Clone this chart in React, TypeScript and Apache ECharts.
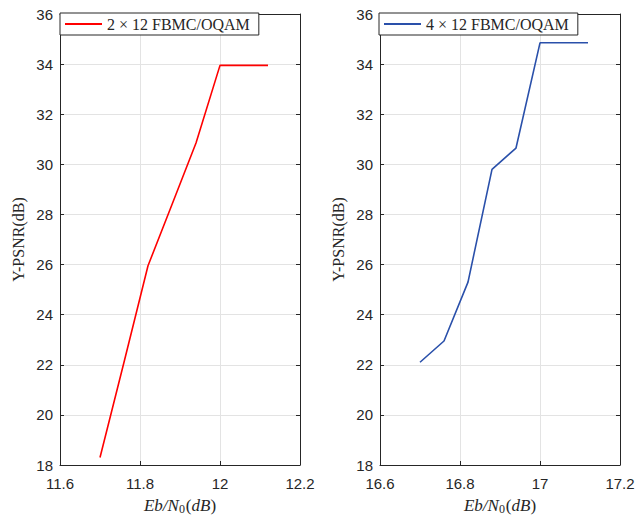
import React, { useEffect, useRef } from "react";
import * as echarts from "echarts";

const leftName = "2 × 12 FBMC/OQAM";
const rightName = "4 × 12 FBMC/OQAM";
const leftX = [11.7, 11.76, 11.82, 11.88, 11.94, 12.0, 12.06, 12.12];
const leftY = [18.3, 22.1, 25.95, 28.4, 30.85, 33.95, 33.95, 33.95];
const rightX = [16.7, 16.76, 16.82, 16.88, 16.94, 17.0, 17.06, 17.12];
const rightY = [22.1, 22.95, 25.3, 29.8, 30.65, 34.85, 34.85, 34.85];
const leftXRange = [11.6, 12.2];
const rightXRange = [16.6, 17.2];
const yRange = [18, 36];
const xInterval = 0.2;
const yInterval = 2;

const AX = "#262626";
const GRID = "#e3e3e3";

export default function App() {
  const ref = useRef<HTMLDivElement>(null);
  useEffect(() => {
    if (!ref.current) return;
    const chart = echarts.init(ref.current, undefined, { renderer: "svg" });
    const fmt = (v: number) => String(parseFloat(v.toFixed(1)));
    const tickLabel = {
      color: AX,
      fontSize: 15,
      fontFamily: "Liberation Sans, Arial, sans-serif",
    };
    const xName = {
      name: "{i|Eb/N}{s|0}{u|(}{i|dB}{u|)}",
      nameLocation: "middle" as const,
      nameGap: 30,
      nameTextStyle: {
        rich: {
          i: { fontFamily: "Liberation Serif, serif", fontStyle: "italic", fontSize: 17, color: AX },
          u: { fontFamily: "Liberation Serif, serif", fontSize: 17, color: AX },
          s: { fontFamily: "Liberation Serif, serif", fontSize: 12, color: AX, verticalAlign: "bottom", padding: [8, 1, 0, 0] },
        },
      },
    };
    const mkX = (grid: number, range: number[], bottom: boolean) => ({
      type: "value" as const,
      gridIndex: grid,
      position: bottom ? "bottom" : "top",
      min: range[0],
      max: range[1],
      interval: xInterval,
      axisLine: { show: true, onZero: false, lineStyle: { color: AX, width: 1 } },
      axisTick: { show: true, inside: true, length: 4, lineStyle: { color: AX } },
      axisLabel: bottom ? { ...tickLabel, margin: 11, formatter: fmt } : { show: false },
      splitLine: { show: bottom, lineStyle: { color: GRID, width: 1 } },
      ...(bottom ? xName : {}),
    });
    const mkY = (grid: number, left: boolean) => ({
      type: "value" as const,
      gridIndex: grid,
      position: left ? "left" : "right",
      min: yRange[0],
      max: yRange[1],
      interval: yInterval,
      axisLine: { show: true, onZero: false, lineStyle: { color: AX, width: 1 } },
      axisTick: { show: true, inside: true, length: 4, lineStyle: { color: AX } },
      axisLabel: left ? { ...tickLabel, margin: 7 } : { show: false },
      splitLine: { show: left, lineStyle: { color: GRID, width: 1 } },
      ...(left
        ? {
            name: "Y-PSNR(dB)",
            nameLocation: "middle" as const,
            nameGap: 34,
            nameTextStyle: { fontFamily: "Liberation Serif, serif", fontSize: 16, color: AX },
          }
        : {}),
    });
    const legendBase = {
      top: 13,
      orient: "vertical" as const,
      backgroundColor: "#fff",
      borderColor: AX,
      borderWidth: 1,
      borderRadius: 0,
      padding: [3, 9, 3, 5],
      itemWidth: 37,
      itemHeight: 2,
      icon: "rect",
      textStyle: { fontFamily: "Liberation Serif, serif", fontSize: 16, color: AX },
    };
    chart.setOption({
      animation: false,
      backgroundColor: "#fff",
      grid: [
        { left: 60, top: 14, width: 240, height: 451, outerBoundsMode: "none", containLabel: false },
        { left: 380, top: 14, width: 240, height: 451, outerBoundsMode: "none", containLabel: false },
      ],
      xAxis: [mkX(0, leftXRange, true), mkX(0, leftXRange, false), mkX(1, rightXRange, true), mkX(1, rightXRange, false)],
      yAxis: [mkY(0, true), mkY(0, false), mkY(1, true), mkY(1, false)],
      legend: [
        { ...legendBase, left: 60, data: [leftName] },
        { ...legendBase, left: 379, data: [rightName] },
      ],
      series: [
        {
          name: leftName,
          type: "line",
          xAxisIndex: 0,
          yAxisIndex: 0,
          symbol: "none",
          lineStyle: { color: "#ff0000", width: 1.6 },
          itemStyle: { color: "#ff0000" },
          data: leftX.map((x, i) => [x, leftY[i]]),
        },
        {
          name: rightName,
          type: "line",
          xAxisIndex: 2,
          yAxisIndex: 2,
          symbol: "none",
          lineStyle: { color: "#2a50aa", width: 1.6 },
          itemStyle: { color: "#2a50aa" },
          data: rightX.map((x, i) => [x, rightY[i]]),
        },
      ],
    });
    return () => chart.dispose();
  }, []);
  return (
    <div
      ref={ref}
      style={{ position: "fixed", left: 0, top: 0, width: 636, height: 517, background: "#fff" }}
    />
  );
}
